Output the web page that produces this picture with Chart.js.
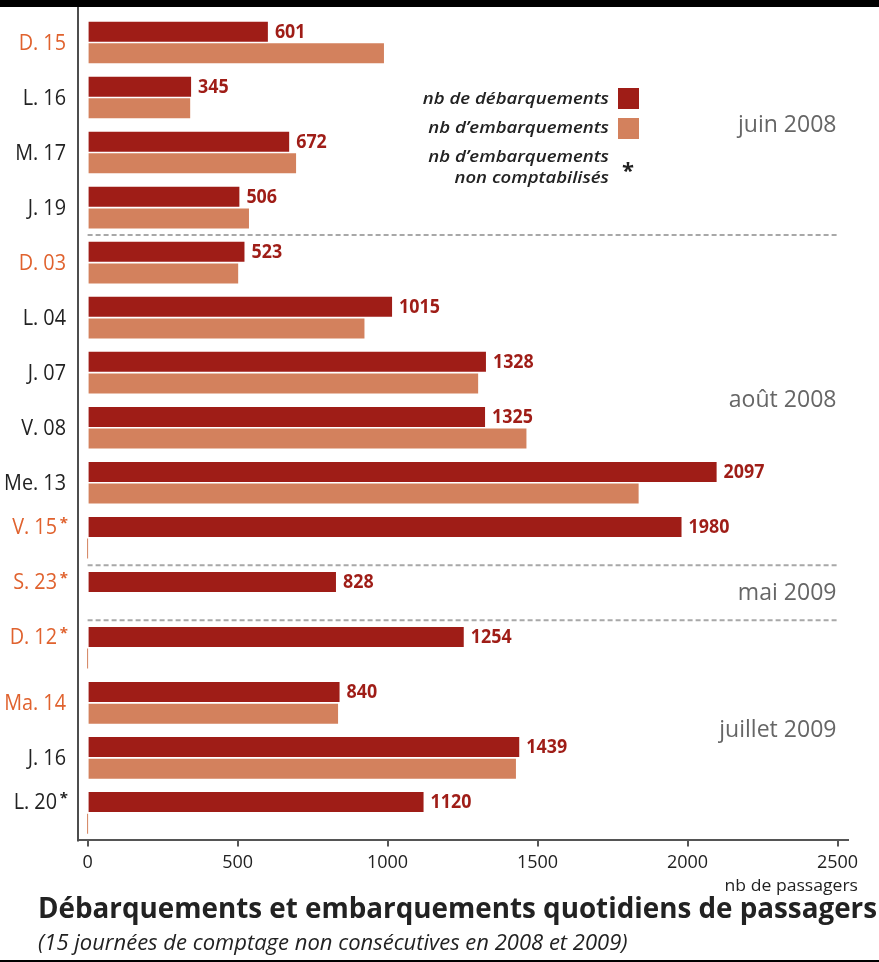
<!DOCTYPE html>
<html>
<head>
<meta charset="utf-8">
<script src="https://cdn.jsdelivr.net/npm/chart.js@4.4.1/dist/chart.umd.min.js"></script>
<style>
html,body{margin:0;padding:0;background:#fff;}
#wrap{width:879px;height:962px;position:relative;}
</style>
</head>
<body>
<div id="wrap"><canvas id="c" width="879" height="962"></canvas></div>
<script>
// ---- data ----
const categories = ['D. 15','L. 16','M. 17','J. 19','D. 03','L. 04','J. 07','V. 08','Me. 13','V. 15*','S. 23*','D. 12*','Ma. 14','J. 16','L. 20*'];
const debarquements = [601,345,672,506,523,1015,1328,1325,2097,1980,828,1254,840,1439,1120];
const embarquements = [988,342,695,538,502,923,1302,1463,1837,0,null,0,835,1428,0];
const orangeLabels = ['D. 15','D. 03','V. 15*','S. 23*','D. 12*','Ma. 14'];
const xTicks = [0,500,1000,1500,2000,2500];
const periodNames = ['juin 2008','août 2008','mai 2009','juillet 2009'];
const periodStart = [0,4,10,11];
const periodEnd = [3,9,10,14];
const seriesNames = ['nb de débarquements','nb d\u2019embarquements'];
const noteLines = ['nb d\u2019embarquements','non comptabilisés'];
const titleText = 'Débarquements et embarquements quotidiens de passagers';
const subtitleText = '(15 journées de comptage non consécutives en 2008 et 2009)';
const xAxisTitle = 'nb de passagers';

const DARK = '#9f1d17';
const LIGHT = '#d3815d';
const ORANGE = '#e0622e';

function condText(ctx, text, x, y, sx, align){
  ctx.save();
  ctx.translate(x, y);
  ctx.scale(sx, 1);
  ctx.textAlign = align;
  ctx.fillText(text, 0, 0);
  ctx.restore();
}

const decor = {
  id: 'decor',
  beforeDraw(chart){
    const ctx = chart.ctx;
    ctx.save();
    ctx.fillStyle = '#fff';
    ctx.fillRect(0,0,chart.width,chart.height);
    ctx.restore();
  },
  afterDatasetsDraw(chart){
    const ctx = chart.ctx;
    const ca = chart.chartArea;
    const y = chart.scales.y;
    const x = chart.scales.x;
    const m0 = chart.getDatasetMeta(0);
    ctx.save();
    // top band & bottom line
    ctx.fillStyle = '#000';
    ctx.fillRect(0,0,chart.width,7);
    ctx.fillRect(0,chart.height-2,chart.width,2);
    // y axis line
    ctx.strokeStyle = '#4d4d4d';
    ctx.lineWidth = 2;
    ctx.beginPath();
    ctx.moveTo(ca.left, 7);
    ctx.lineTo(ca.left, ca.bottom+1);
    ctx.stroke();
    // separators between periods
    ctx.strokeStyle = '#a8a8a8';
    ctx.lineWidth = 2;
    ctx.setLineDash([5,3]);
    for (let p=0; p<periodEnd.length-1; p++){
      const yy = (y.getPixelForValue(periodEnd[p]) + y.getPixelForValue(periodStart[p+1]))/2;
      ctx.beginPath();
      ctx.moveTo(x.getPixelForValue(0), yy);
      ctx.lineTo(x.getPixelForValue(2500), yy);
      ctx.stroke();
    }
    ctx.setLineDash([]);
    // period labels
    ctx.fillStyle = '#666';
    ctx.font = '24px "Open Sans"';
    ctx.textBaseline = 'middle';
    for (let p=0; p<periodNames.length; p++){
      const yy = (y.getPixelForValue(periodStart[p]) + y.getPixelForValue(periodEnd[p]))/2;
      condText(ctx, periodNames[p], x.getPixelForValue(2500)-1, yy, 0.96, 'right');
    }
    // value labels
    ctx.fillStyle = DARK;
    ctx.font = 'bold 19px "Open Sans"';
    m0.data.forEach((bar,i)=>{
      condText(ctx, String(debarquements[i]), bar.x+7, bar.y+1, 0.94, 'left');
    });
    // category labels
    categories.forEach((lab,i)=>{
      const star = lab.endsWith('*');
      const base = star ? lab.slice(0,-1) : lab;
      const yy = star ? m0.data[i].y : y.getPixelForValue(i);
      ctx.fillStyle = orangeLabels.includes(lab) ? ORANGE : '#222';
      ctx.font = '500 22px "Open Sans"';
      if (star){
        condText(ctx, base, 57, yy+1, 0.9, 'right');
        ctx.font = 'bold 15px "Open Sans"';
        condText(ctx, '*', 68, yy-3, 1, 'right');
      } else {
        condText(ctx, base, 66, yy+1, 0.9, 'right');
      }
    });
    // legend
    ctx.font = 'italic 600 16px "Open Sans"';
    ctx.fillStyle = '#222';
    const legX = 609;
    condText(ctx, seriesNames[0], legX, 99, 1.16, 'right');
    condText(ctx, seriesNames[1], legX, 128, 1.16, 'right');
    condText(ctx, noteLines[0], legX, 157, 1.16, 'right');
    condText(ctx, noteLines[1], legX, 178, 1.16, 'right');
    ctx.fillStyle = DARK;
    ctx.fillRect(618, 88, 21, 21);
    ctx.fillStyle = LIGHT;
    ctx.fillRect(618, 118, 21, 21);
    ctx.fillStyle = '#222';
    ctx.font = 'bold 22px "Open Sans"';
    ctx.textAlign = 'center';
    ctx.fillText('*', 628, 172);
    // x axis title
    ctx.font = '16px "Open Sans"';
    ctx.fillStyle = '#222';
    condText(ctx, xAxisTitle, 858, 886, 1.1, 'right');
    // title & subtitle
    ctx.textAlign = 'left';
    ctx.font = 'bold 28px "Open Sans"';
    ctx.fillStyle = '#222';
    ctx.fillText(titleText, 38, 910, 839);
    ctx.font = 'italic 22px "Open Sans"';
    ctx.fillText(subtitleText, 38, 944, 592);
    ctx.restore();
  }
};

new Chart(document.getElementById('c'), {
  type: 'bar',
  data: {
    labels: categories,
    datasets: [
      {label: seriesNames[0], data: debarquements, backgroundColor: DARK, categoryPercentage: 0.785, barPercentage: 0.926},
      {label: seriesNames[1], data: embarquements, backgroundColor: LIGHT, categoryPercentage: 0.785, barPercentage: 0.926, minBarLength: 1}
    ]
  },
  options: {
    indexAxis: 'y',
    responsive: false,
    animation: false,
    events: [],
    layout: {padding: {top: 15, left: 78, right: 31, bottom: 82}},
    plugins: {legend: {display: false}, tooltip: {enabled: false}},
    scales: {
      y: {
        type: 'category',
        display: false,
        offset: true
      },
      x: {
        min: -32,
        max: 2535,
        afterBuildTicks: (s)=>{ s.ticks = xTicks.map(v=>({value:v})); },
        grid: {display: true, drawOnChartArea: false, drawTicks: true, tickLength: 6, color: '#555', lineWidth: 2},
        border: {display: true, color: '#555', width: 2},
        ticks: {color: '#222', font: {family: 'Open Sans', size: 18}, padding: 6, maxRotation: 0, autoSkip: false, callback: (v)=>String(v)}
      }
    }
  },
  plugins: [decor]
});
</script>
</body>
</html>
